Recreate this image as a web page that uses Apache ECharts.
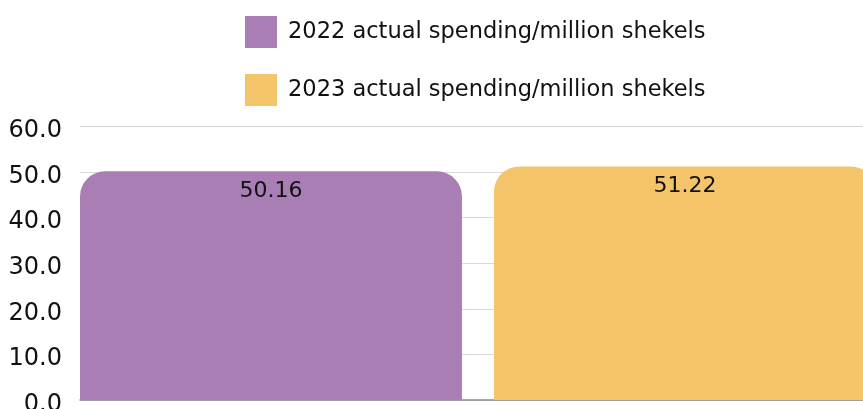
<!DOCTYPE html>
<html><head><meta charset="utf-8">
<style>html,body{margin:0;padding:0;background:#fff;overflow:hidden;width:863px;height:409px}#c{width:876px;height:409px}</style>
<script src="https://cdn.jsdelivr.net/npm/echarts@6/dist/echarts.min.js"></script>
</head><body><div id="c"></div>
<script>
const categories = [''];
const seriesNames = ['2022 actual spending/million shekels', '2023 actual spending/million shekels'];
const values2022 = [50.16];
const values2023 = [51.22];
const yTicks = [0, 10, 20, 30, 40, 50, 60];

const chart = echarts.init(document.getElementById('c'), null, {renderer: 'canvas'});
const font = 'DejaVu Sans';
const labelStyle = {show: true, position: 'insideTop', distance: 9, color: '#111', fontFamily: font, fontSize: 22,
  formatter: p => p.value.toFixed(2)};
chart.setOption({
  animation: false,
  legend: {
    orient: 'vertical', left: 245, top: 16, padding: 0,
    itemWidth: 32, itemHeight: 32, itemGap: 26,
    icon: 'rect',
    textStyle: {fontFamily: font, fontSize: 22.5, color: '#111', padding: [0, 0, 0, 6]},
    data: seriesNames
  },
  grid: {left: 80, right: 0, top: 126.5, bottom: 9, containLabel: false, outerBoundsMode: 'none'},
  xAxis: {type: 'category', data: categories,
    axisLine: {show: true, lineStyle: {color: '#8c8c8c', width: 1.5}},
    axisTick: {show: false}, axisLabel: {show: false}},
  yAxis: {type: 'value', min: yTicks[0], max: yTicks[yTicks.length - 1], interval: 10,
    axisLine: {show: false}, axisTick: {show: false},
    splitLine: {lineStyle: {color: '#d9d9d9', width: 1}},
    axisLabel: {formatter: v => v.toFixed(1), fontFamily: font, fontSize: 24, color: '#111', margin: 18,
      verticalAlign: 'top', lineHeight: 9}},
  series: [
    {name: seriesNames[0], type: 'bar', data: values2022, barWidth: 382, barGap: '8.4%',
      itemStyle: {color: '#a97eb4', borderRadius: [25, 25, 0, 0]}, label: labelStyle},
    {name: seriesNames[1], type: 'bar', data: values2023, barWidth: 382,
      itemStyle: {color: '#f4c46b', borderRadius: [25, 25, 0, 0]}, label: labelStyle}
  ]
});
</script></body></html>
